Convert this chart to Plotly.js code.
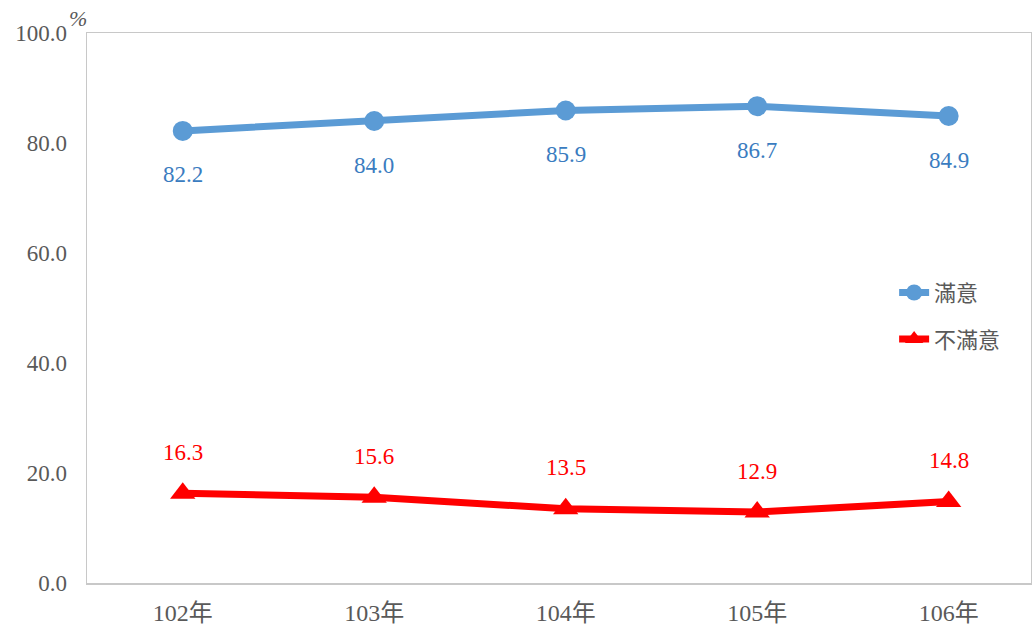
<!DOCTYPE html>
<html><head><meta charset="utf-8">
<script src="https://cdn.plot.ly/plotly-3.0.1.min.js"></script>
<style>html,body{margin:0;padding:0;background:#fff}#chart{width:1032px;height:631px}</style>
</head><body><div id="chart"></div>
<script>
const years = ['102年','103年','104年','105年','106年'];
const satisfied = [82.2, 84.0, 85.9, 86.7, 84.9];
const unsatisfied = [16.3, 15.6, 13.5, 12.9, 14.8];
const yTicks = [0, 20, 40, 60, 80, 100];
const yTickText = ['0.0','20.0','40.0','60.0','80.0','100.0'];

const serif = "'Liberation Serif', 'Noto Sans CJK TC', serif";
const blue = '#5B9BD5', red = '#FF0000';

const traces = [
  {x: years, y: satisfied, name: '滿意', type: 'scatter', mode: 'lines+markers', legendgroup: 'a',
   line: {color: blue, width: 7}, marker: {symbol: 'circle', size: 20, color: blue}},
  {x: years, y: unsatisfied, name: '不滿意', type: 'scatter', mode: 'lines+markers', legendgroup: 'b',
   line: {color: red, width: 7}, marker: {symbol: 'triangle-up', size: 22, color: red}}
];

const annotations = [];
years.forEach((yr, i) => {
  annotations.push({x: yr, y: satisfied[i], text: satisfied[i].toFixed(1), showarrow: false,
    yshift: -44, font: {family: serif, size: 23, color: '#3A7CC0'}});
  annotations.push({x: yr, y: unsatisfied[i], text: unsatisfied[i].toFixed(1), showarrow: false,
    yshift: 41, font: {family: serif, size: 23, color: red}});
});
annotations.push({xref: 'paper', yref: 'paper', x: -0.01, y: 1.0, xanchor: 'center', yanchor: 'bottom',
  text: '<i>%</i>', showarrow: false, font: {family: serif, size: 22, color: '#595959'}});

const layout = {
  width: 1032, height: 631,
  margin: {l: 87, r: 1, t: 33, b: 48},
  paper_bgcolor: '#fff', plot_bgcolor: '#fff',
  showlegend: true,
  legend: {x: 0.855, y: 0.566, xanchor: 'left', yanchor: 'top', bgcolor: 'rgba(0,0,0,0)',
    traceorder: 'grouped', tracegroupgap: 15,
    font: {family: "'Noto Sans CJK TC', sans-serif", size: 22, color: '#595959'}},
  xaxis: {type: 'category', range: [-0.5, 4.43], showgrid: false, zeroline: false,
    showline: true, linecolor: '#C8C8C8', linewidth: 1.5, mirror: true, ticks: '',
    tickfont: {family: serif, size: 24, color: '#595959'}, ticklabelstandoff: 8},
  yaxis: {range: [0, 100], tickvals: yTicks, ticktext: yTickText, showgrid: false, zeroline: false,
    showline: true, linecolor: '#C8C8C8', linewidth: 1.5, mirror: true, ticks: '',
    tickfont: {family: serif, size: 23, color: '#595959'}, ticklabelstandoff: 14},
  annotations: annotations
};
Plotly.newPlot('chart', traces, layout, {displayModeBar: false, staticPlot: true});
</script></body></html>
